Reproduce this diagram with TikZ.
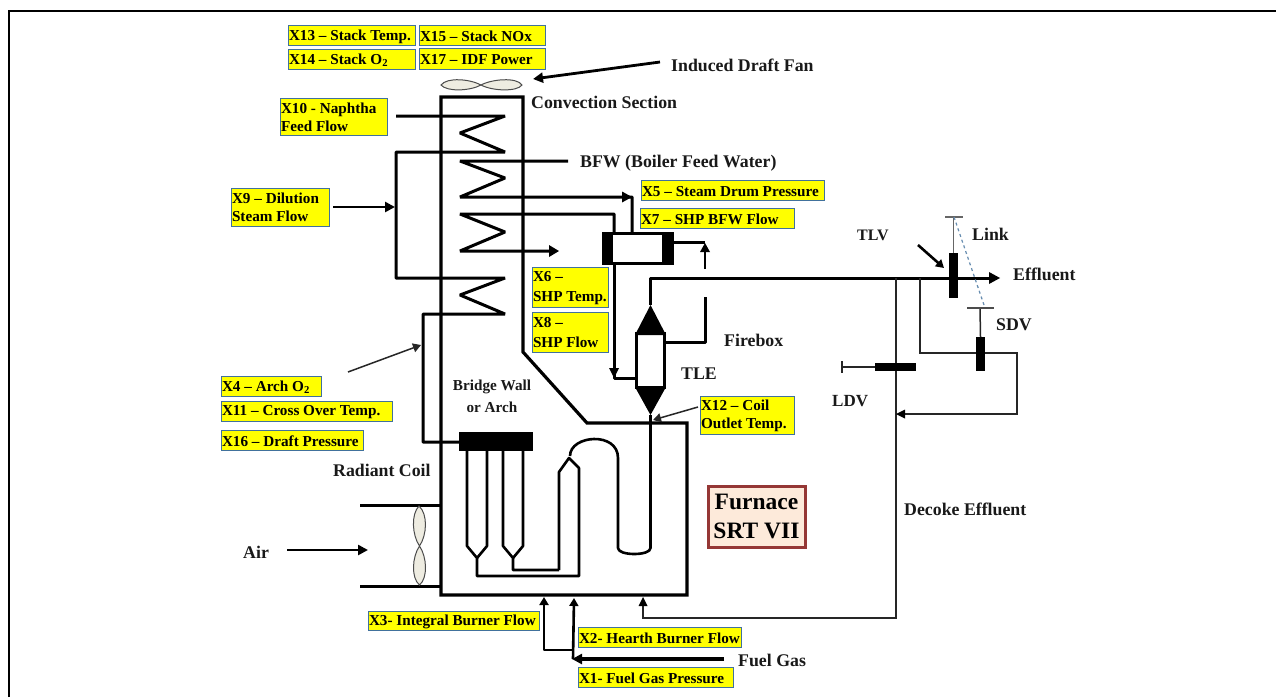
\documentclass[tikz,border=0pt]{standalone}
\usepackage{fontspec}
\setmainfont{Liberation Serif}
\usetikzlibrary{arrows.meta}
\definecolor{lbl}{HTML}{FFFF00}
\definecolor{lbledge}{HTML}{41719C}
\definecolor{fanfill}{HTML}{EEECE1}
\tikzset{
  x=1pt,y=-1pt,
  tag/.style={draw=lbledge,line width=.9pt,fill=lbl,inner sep=0pt,outer sep=0pt,font=\fontsize{15.2}{18}\selectfont\bfseries,align=left,anchor=north west,text=black},
  txt/.style={inner sep=0pt,font=\fontsize{17.8}{22}\selectfont\bfseries,text=black!90},
  wall/.style={line width=3.2pt,line join=miter,black},
  pipe/.style={line width=3pt,line join=bevel,black},
  mid/.style={line width=2.6pt,line join=round,black},
  thin1/.style={line width=1.5pt,black!85},
  arr/.style={-{Triangle[length=10pt,width=10pt]}},
  arrs/.style={-{Triangle[length=8pt,width=9pt]}},
  blk/.style={fill=black,draw=none,inner sep=0pt,outer sep=0pt},
  fan/.style={draw=black!70,line width=1pt,fill=fanfill},
}
\newcommand{\tagbox}[7]{\node[tag,minimum width=#4pt-#2pt,minimum height=#5pt-#3pt] (#1) at (#2,#3) {};
  \node[tag,draw=none,fill=none,anchor=west] (#1t) at (#2+1,#3/2+#5/2+#7) {#6};}
\begin{document}
\begin{tikzpicture}
\useasboundingbox (0,0) rectangle (1276,697);
\fill[white] (0,0) rectangle (1276,697);
% frame
\draw[line width=2.2pt,black] (9,697) -- (9,11) -- (1276,11);
% coordinates
\coordinate (wTL) at (441,97); \coordinate (wTR) at (523,97); \coordinate (wA) at (523,352);
\coordinate (wB) at (587,423); \coordinate (wC) at (687,423); \coordinate (wD) at (687,595); \coordinate (wE) at (441,595);
\coordinate (drumTop) at (632,233); \coordinate (tleTop) at (650.5,305); \coordinate (tleBot) at (650.5,415);
\coordinate (split) at (896,278); \coordinate (split2) at (920,278);
% fan top
\draw[fan] (441,85) .. controls (447,77) and (470,79) .. (481,85) .. controls (492,91) and (517,92) .. (522,85)
  .. controls (517,77) and (492,79) .. (481,85) .. controls (470,91) and (447,92) .. (441,85) -- cycle;
% air duct + fan
\draw[pipe] (360,505) -- (441,505);
\draw[pipe] (360,586) -- (441,586);
\draw[fan] (419,506) .. controls (411,514) and (412,535) .. (419.5,546) .. controls (427,557) and (428,578) .. (419.5,585)
  .. controls (411,578) and (412,557) .. (419.5,546) .. controls (427,535) and (428,514) .. (419,506) -- cycle;
% furnace wall
\draw[wall] (wTL) -- (wTR) -- (wA) -- (wB) -- (wC) -- (wD) -- (wE) -- cycle;
% coil 1 & 4
\draw[pipe] (396,116) -- (505,116) -- (460,133) -- (505,152) -- (396,152) -- (396,278) -- (505,278) -- (460,295) -- (505,314) -- (423,314) -- (423,442) -- (459,442);
% coil 2
\draw[pipe] (568,161) -- (460,161) -- (505,178) -- (460,197) -- (632,197) -- (drumTop);
\draw[blk] (622,191.5) -- (632,197) -- (622,202.5) -- cycle;
% coil 3
\draw[pipe] (614,250) -- (614,214) -- (460,214) -- (505,232) -- (460,251) -- (552,251);
\draw[blk] (549,245) -- (559,251) -- (549,257) -- cycle;
% drum
\draw[pipe,line join=miter,fill=white] (603,233) rectangle (672,263);
\fill[black] (601.5,231.5) rectangle (613,264.5);
\fill[black] (662,231.5) rectangle (673.5,264.5);
% drum-tle
\draw[pipe] (614,263) -- (614,378) -- (636,378);
\draw[blk] (609,368) -- (619,368) -- (614,378) -- cycle;
\draw[pipe] (672,242) -- (705,242);
\draw[mid] (705,269) -- (705,250);
\draw[blk] (700,252) -- (705,243) -- (710,252) -- cycle;
\draw[pipe] (705,297) -- (705,342) -- (664,342);
% TLE
\draw[pipe,line join=miter,fill=white] (636.5,333) rectangle (664.5,387);
\fill[black] (tleTop) -- (666,335) -- (635,335) -- cycle;
\fill[black] (tleBot) -- (666,387) -- (635,387) -- cycle;
% outlet line
\draw[pipe] (tleTop) -- (650.5,278) -- (993,278);
\draw[blk] (989,272) -- (1000,278) -- (989,284) -- cycle;
% radiant coil
\draw[mid] (tleBot) -- (650.5,548) .. controls (650.5,556) and (618,556) .. (618,548) -- (618,458) .. controls (618,431) and (570,435) .. (570,456);
\draw[mid] (559,570) -- (559,472) -- (569,458) -- (579,468) -- (579,576) -- (477,576) -- (477,558) -- (467,546) -- (467,451);
\draw[mid] (477,558) -- (487,546) -- (487,451);
\draw[mid] (559,570) -- (513,570) -- (513,558) -- (503,546) -- (503,451);
\draw[mid] (513,558) -- (523,546) -- (523,451);
\node[blk,minimum width=74pt,minimum height=19pt] (hdr) at (496,441.5) {};
% right side
\draw[thin1] (split) -- (896,618) -- (643,618) -- (643,604);
\draw[blk] (638.5,606) -- (643,597) -- (647.5,606) -- cycle;
\draw[thin1] (split2) -- (920,353) -- (1017,353) -- (1017,414) -- (903,414);
\draw[blk] (905,409.5) -- (896,414) -- (905,418.5) -- cycle;
\node[blk,minimum width=41pt,minimum height=8pt] (ldv) at (895.5,367) {};
\draw[thin1] (ldv.west) -- (842,367);
\draw[thin1] (842,361) -- (842,373);
\node[blk,minimum width=9pt,minimum height=45pt] (tlv) at (953.5,275.5) {};
\draw[black!60,line width=1.4pt] (tlv.north) -- (953.5,217);
\draw[black!60,line width=1.4pt] (945,217) -- (963,217);
\node[blk,minimum width=9pt,minimum height=34pt] (sdv) at (980.5,354) {};
\draw[thin1] (sdv.north) -- (980,308);
\draw[black!70,line width=1.2pt] (967,308) -- (994,308);
\draw[line width=1.2pt,dashed,draw=lbledge!80] (954,217) -- (984,305);
% arrows
\draw[line width=2.8pt,arr] (660,62) -- (533,79);
\draw[mid,arr] (333,207) -- (395,207);
\draw[mid,arr] (287,550) -- (368,550);
\draw[line width=2.6pt,arrs] (918,245) -- (944,268);
\draw[thin1,arrs] (348,372) -- (421,345);
\draw[thin1,arrs] (698,407) -- (653,420);
% fuel
\draw[line width=3.4pt,arr] (724,659) -- (572,659);
\draw[mid,arrs] (573,659) -- (574,598);
\draw[mid,arrs] (573,650) -- (544,650) -- (544,597);
% labels
\tagbox{x13}{288}{25}{415}{45}{X13 – Stack Temp.}{1.5}
\tagbox{x15}{419}{25}{545}{45}{X15 – Stack NOx}{1.5}
\tagbox{x14}{288}{49}{415}{69}{X14 – Stack O\textsubscript{2}}{1.5}
\tagbox{x17}{419}{48}{545}{69}{X17 – IDF Power}{1.5}
\tagbox{x10}{280}{98}{387}{135}{X10 - Naphtha\\Feed Flow}{0.5}
\tagbox{x9}{231}{188}{329}{226}{X9 – Dilution\\Steam Flow}{0.5}
\tagbox{x6}{532}{267}{608}{307}{X6 –\\[2pt]SHP Temp.}{1}
\tagbox{x8}{532}{312}{608}{352}{X8 –\\[2pt]SHP Flow}{1}
\tagbox{x5}{641}{180}{824}{200}{X5 – Steam Drum Pressure}{1.5}
\tagbox{x7}{640}{208}{794}{228}{X7 – SHP BFW Flow}{1.5}
\tagbox{x12}{700}{396}{794}{434}{X12 – Coil\\Outlet Temp.}{0.5}
\tagbox{x4}{221}{376}{321}{396}{X4 – Arch O\textsubscript{2}}{1.5}
\tagbox{x11}{221}{401}{392}{421}{X11 – Cross Over Temp.}{1.5}
\tagbox{x16}{221}{430}{363}{450}{X16 – Draft Pressure}{1.5}
\tagbox{x3}{368}{611}{539}{630}{X3- Integral Burner Flow}{1.5}
\tagbox{x2}{578}{627}{741}{647}{X2- Hearth Burner Flow}{1.5}
\tagbox{x1}{578}{667}{733}{687}{X1- Fuel Gas Pressure}{1.5}
% furnace title
\node[draw={rgb,255:red,149;green,55;blue,53},line width=3pt,fill={rgb,255:red,253;green,234;blue,218},minimum width=97pt,minimum height=61pt,inner sep=0pt,align=center,font=\fontsize{23.5}{29}\selectfont\bfseries] (furn) at (756.5,516.5) {Furnace\\SRT VII};
% text
\node[txt,anchor=west] (t1) at (671,65) {Induced Draft Fan};
\node[txt,anchor=west] (t2) at (531,102) {Convection Section};
\node[txt,anchor=west] (t3) at (580,163) {BFW (Boiler Feed Water)};
\node[txt,anchor=west] (t4) at (724,340) {Firebox};
\node[txt,anchor=west] (t5) at (681,374) {TLE};
\node[txt,anchor=west,font=\fontsize{16}{22}\selectfont\bfseries] (t6) at (857,235) {TLV};
\node[txt,anchor=west] (t7) at (972,234) {Link};
\node[txt,anchor=west] (t8) at (1013,274) {Effluent};
\node[txt,anchor=west] (t9) at (996,325) {SDV};
\node[txt,anchor=west,font=\fontsize{17}{22}\selectfont\bfseries] (t10) at (832,401) {LDV};
\node[txt,anchor=west] (t11) at (904,509) {Decoke Effluent};
\node[txt,align=center,font=\fontsize{15.2}{22}\selectfont\bfseries] (t12) at (492,396) {Bridge Wall\\or Arch};
\node[txt,anchor=west] (t13) at (333,470) {Radiant Coil};
\node[txt,anchor=west] (t14) at (243,552) {Air};
\node[txt,anchor=west] (t15) at (738,660) {Fuel Gas};
\end{tikzpicture}
\end{document}
